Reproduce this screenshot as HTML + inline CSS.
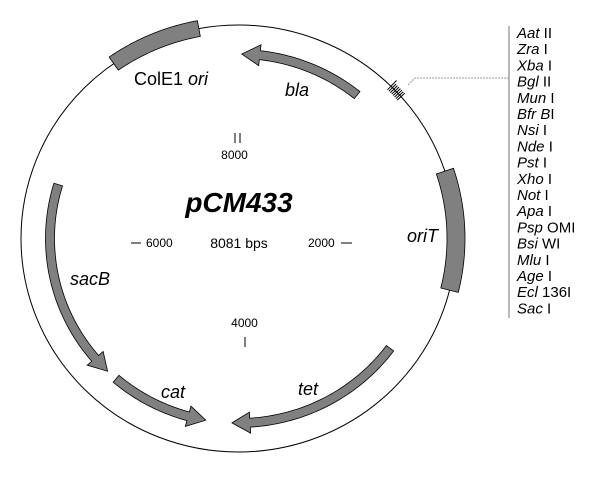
<!DOCTYPE html>
<html><head><meta charset="utf-8"><style>
html,body{margin:0;padding:0;background:#fff;}
svg{display:block;}
text{font-family:"Liberation Sans",Arial,sans-serif;fill:#000;}
.it{font-style:italic;}
</style></head><body>
<svg id="s" width="600" height="480" viewBox="0 0 600 480" xmlns="http://www.w3.org/2000/svg">
<ellipse cx="238.5" cy="238.5" rx="217.5" ry="213.5" fill="none" stroke="#000" stroke-width="1"/>
<g id="feat"></g>
<polyline points="408,85 415,78 509,78" fill="none" stroke="#999" stroke-width="1" stroke-dasharray="2,1"/>
<line x1="509" y1="26" x2="509" y2="318" stroke="#888" stroke-width="1.2"/>
<g font-size="15">
<text x="517" y="38"><tspan class="it">Aat</tspan> II</text>
<text x="517" y="54.2"><tspan class="it">Zra</tspan> I</text>
<text x="517" y="70.4"><tspan class="it">Xba</tspan> I</text>
<text x="517" y="86.6"><tspan class="it">Bgl</tspan> II</text>
<text x="517" y="102.8"><tspan class="it">Mun</tspan> I</text>
<text x="517" y="119"><tspan class="it">Bfr B</tspan>I</text>
<text x="517" y="135.2"><tspan class="it">Nsi</tspan> I</text>
<text x="517" y="151.4"><tspan class="it">Nde</tspan> I</text>
<text x="517" y="167.6"><tspan class="it">Pst</tspan> I</text>
<text x="517" y="183.8"><tspan class="it">Xho</tspan> I</text>
<text x="517" y="200"><tspan class="it">Not</tspan> I</text>
<text x="517" y="216.2"><tspan class="it">Apa</tspan> I</text>
<text x="517" y="232.4"><tspan class="it">Psp</tspan> OMI</text>
<text x="517" y="248.6"><tspan class="it">Bsi</tspan> WI</text>
<text x="517" y="264.8"><tspan class="it">Mlu</tspan> I</text>
<text x="517" y="281"><tspan class="it">Age</tspan> I</text>
<text x="517" y="297.2"><tspan class="it">Ecl</tspan> 136I</text>
<text x="517" y="313.4"><tspan class="it">Sac</tspan> I</text>
</g>
<text x="134" y="85" font-size="18">ColE1 <tspan class="it">ori</tspan></text>
<text x="285" y="96" font-size="18" class="it">bla</text>
<text x="407" y="242" font-size="18" class="it">oriT</text>
<text x="70" y="285" font-size="18" class="it">sacB</text>
<text x="161" y="398" font-size="18" class="it">cat</text>
<text x="298" y="395" font-size="18" class="it">tet</text>
<text x="239" y="212" font-size="28" font-weight="bold" class="it" text-anchor="middle">pCM433</text>
<text x="239" y="248" font-size="14" text-anchor="middle">8081 bps</text>
<text x="234.5" y="159" font-size="12" text-anchor="middle">8000</text>
<line x1="235" y1="133" x2="235" y2="143" stroke="#000"/>
<line x1="240" y1="133" x2="240" y2="143" stroke="#000"/>
<text x="244.5" y="327" font-size="12" text-anchor="middle">4000</text>
<line x1="245" y1="337" x2="245" y2="347" stroke="#000"/>
<text x="308" y="247" font-size="12">2000</text>
<line x1="341" y1="243" x2="352" y2="243" stroke="#000"/>
<line x1="131" y1="243" x2="141" y2="243" stroke="#000"/>
<text x="146" y="247" font-size="12">6000</text>
</svg>
<script>
var cx=238.5,cy=238.5,rx=217.5,ry=213.5,D=Math.PI/180;
function P(a,o){a*=D;return [(cx+(rx+o)*Math.sin(a)).toFixed(2),(cy-(ry+o)*Math.cos(a)).toFixed(2)].join(',');}
function arc(a1,a2,o){var p=[],n=60;for(var i=0;i<=n;i++)p.push(P(a1+(a2-a1)*i/n,o));return p;}
var g=document.getElementById('feat'),ns='http://www.w3.org/2000/svg';
function poly(pts){var e=document.createElementNS(ns,'polygon');e.setAttribute('points',pts.join(' '));e.setAttribute('fill','#808080');e.setAttribute('stroke','#000');e.setAttribute('stroke-width','0.8');g.appendChild(e);}
function box(a1,a2,h){poly(arc(a1,a2,h).concat(arc(a2,a1,-h)));}
function arrow(t,tip,o){var s=tip>t?1:-1,b=tip-s*5.5;var pts=arc(t,b,o+4.5);pts.push(P(b,o+10.5));pts.push(P(tip,o));pts.push(P(b,o-10.5));pts=pts.concat(arc(b,t,o-4.5));poly(pts);}
box(-35,-10.5,8);
box(71.6,104,9);
arrow(39,1,-29);
arrow(287,224,-29);
arrow(220.5,190,-29);
arrow(126.5,182,-29);
for(var i=0;i<8;i++){var a=44.5+i*0.55;var l=document.createElementNS(ns,'line');var p1=P(a,-5).split(','),p2=P(a,i==0?8:5).split(',');l.setAttribute('x1',p1[0]);l.setAttribute('y1',p1[1]);l.setAttribute('x2',p2[0]);l.setAttribute('y2',p2[1]);l.setAttribute('stroke','#000');l.setAttribute('stroke-width','1');g.appendChild(l);}
</script>
</body></html>
